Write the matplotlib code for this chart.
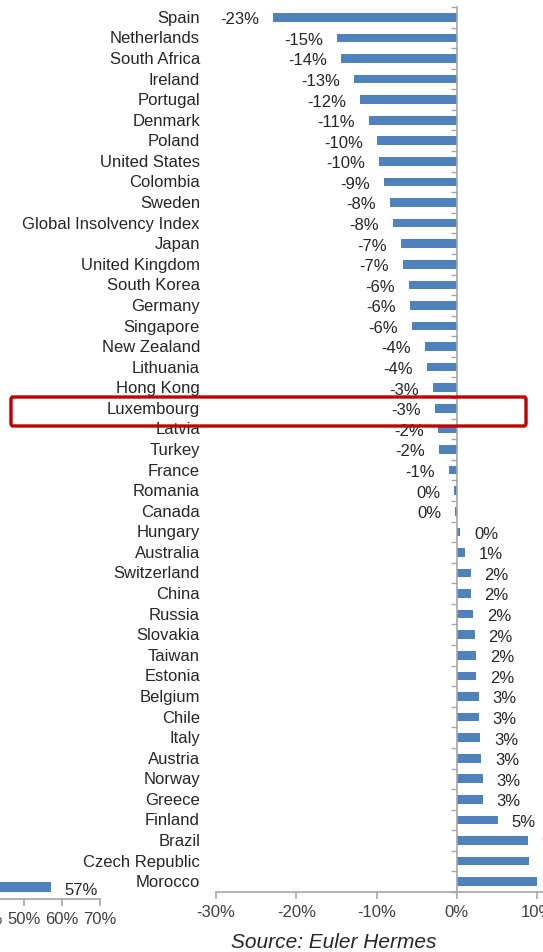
import matplotlib.pyplot as plt
from matplotlib.patches import FancyBboxPatch
from matplotlib.transforms import blended_transform_factory

plt.rcParams['font.family'] = ['Liberation Sans', 'DejaVu Sans']

countries = ['Spain', 'Netherlands', 'South Africa', 'Ireland', 'Portugal', 'Denmark',
             'Poland', 'United States', 'Colombia', 'Sweden', 'Global Insolvency Index',
             'Japan', 'United Kingdom', 'South Korea', 'Germany', 'Singapore',
             'New Zealand', 'Lithuania', 'Hong Kong', 'Luxembourg', 'Latvia', 'Turkey',
             'France', 'Romania', 'Canada', 'Hungary', 'Australia', 'Switzerland',
             'China', 'Russia', 'Slovakia', 'Taiwan', 'Estonia', 'Belgium', 'Chile',
             'Italy', 'Austria', 'Norway', 'Greece', 'Finland', 'Brazil',
             'Czech Republic', 'Morocco']
change = [-22.9, -14.9, -14.4, -12.8, -12.1, -11.0, -10.0, -9.7, -9.1, -8.3, -8.0,
          -7.0, -6.7, -6.0, -5.9, -5.6, -4.0, -3.7, -3.0, -2.7, -2.4, -2.2,
          -1.0, -0.3, -0.2, 0.4, 1.0, 1.7, 1.7, 2.0, 2.2, 2.4, 2.4, 2.7, 2.7,
          2.9, 3.0, 3.2, 3.2, 5.1, 8.8, 9.0, 10.0]
xticks = [-30, -20, -10, 0, 10, 20]

# fragment of the neighbouring chart (bottom left, cut off)
frag_value = [57]
frag_ticks = [0, 10, 20, 30, 40, 50, 60, 70]

blue = '#4F81BD'
grey = '#A6A6A6'
W, H = 543, 953

fig = plt.figure(figsize=(W / 100, H / 100), dpi=100)

# main chart
ax = fig.add_axes([216 / W, 1 - 893 / H, 401.5 / W, 885 / H])
n = len(countries)
ypos = list(range(n))
ax.barh(ypos, change, height=0.42, color=blue)
ax.set_xlim(-30, 20)
ax.set_ylim(n - 0.5, -0.5)

for s in ['top', 'right']:
    ax.spines[s].set_visible(False)
ax.spines['left'].set_position(('data', 0))
for s in ['left', 'bottom']:
    ax.spines[s].set_color(grey)
    ax.spines[s].set_linewidth(1.2)

ax.set_xticks(xticks)
ax.set_xticklabels([f'{t}%' for t in xticks], fontsize=12, color='#404040')
ax.tick_params(axis='x', length=5, color=grey, width=1.2, pad=4)
ax.set_yticks([i - 0.5 for i in range(n + 1)])
ax.set_yticklabels([])
ax.tick_params(axis='y', length=4, color=grey, width=1, direction='out')

trans = blended_transform_factory(fig.transFigure, ax.transData)
for y, name, v in zip(ypos, countries, change):
    ax.text(200 / W, y, name, transform=trans, ha='right', va='center',
            fontsize=12, color='#262626')
    lab = f'{int(round(v))}%'
    if v < 0:
        ax.annotate(lab, (v, y), xytext=(-10, -1), textcoords='offset points',
                    ha='right', va='center', fontsize=12, color='#262626')
    else:
        ax.annotate(lab, (v, y), xytext=(10, -1), textcoords='offset points',
                    ha='left', va='center', fontsize=12, color='#262626')

# highlight box around Luxembourg
box = FancyBboxPatch((11 / W, 1 - 427 / H), 515 / W, 29 / H,
                     boxstyle='round,pad=0,rounding_size=0.003',
                     transform=fig.transFigure, fill=False,
                     edgecolor='#C00000', linewidth=2.4)
fig.patches.append(box)

# neighbouring chart fragment
ax2 = fig.add_axes([-166 / W, 1 - 900 / H, 266 / W, 24 / H])
ax2.barh([0], frag_value, height=0.38, color=blue)
ax2.set_xlim(0, 70)
ax2.set_ylim(-0.5, 0.5)
for s in ['top', 'right', 'left']:
    ax2.spines[s].set_visible(False)
ax2.spines['bottom'].set_color(grey)
ax2.spines['bottom'].set_linewidth(1.2)
ax2.set_xticks(frag_ticks)
ax2.set_xticklabels([f'{t}%' for t in frag_ticks], fontsize=12, color='#404040')
ax2.tick_params(axis='x', length=5, color=grey, width=1.2, pad=4)
ax2.set_yticks([])
ax2.annotate(f'{frag_value[0]}%', (frag_value[0], 0), xytext=(10, -2),
             textcoords='offset points', ha='left', va='center',
             fontsize=12, color='#262626')

fig.text(334 / W, 1 - 943 / H, 'Source: Euler Hermes', ha='center', va='center',
         fontsize=15, style='italic', color='#262626')

fig.savefig('out.png', dpi=100)
